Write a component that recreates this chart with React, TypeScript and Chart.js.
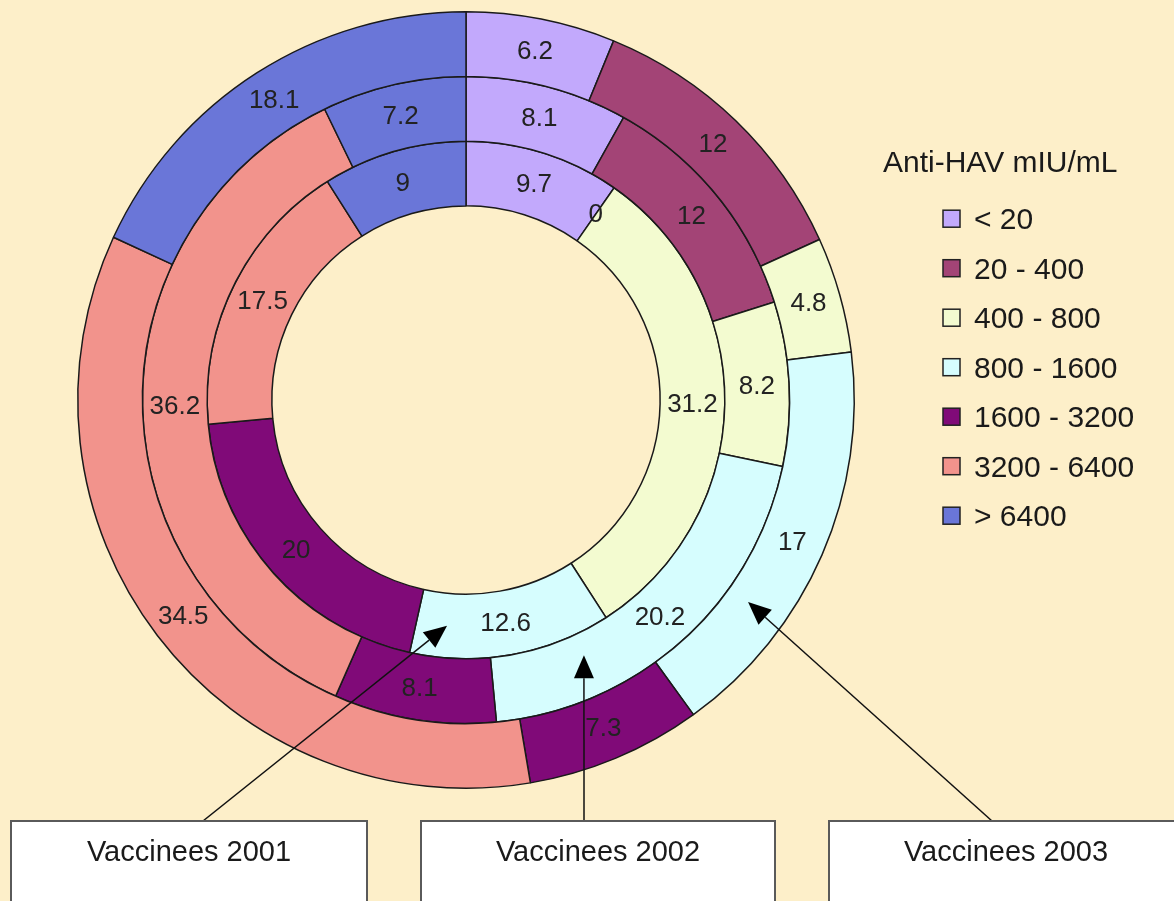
import React, { useEffect, useRef } from "react";
import { Chart, registerables } from "chart.js";

Chart.register(...registerables);

// ---- data ----
const categories = ["< 20", "20 - 400", "400 - 800", "800 - 1600", "1600 - 3200", "3200 - 6400", "> 6400"];
const values2003 = [6.2, 12, 4.8, 17, 7.3, 34.5, 18.1];
const values2002 = [8.1, 12, 8.2, 20.2, 8.1, 36.2, 7.2];
const values2001 = [9.7, 0, 31.2, 12.6, 20, 17.5, 9];
const seriesNames = ["Vaccinees 2003", "Vaccinees 2002", "Vaccinees 2001"];
const legendTitle = "Anti-HAV mIU/mL";
const sliceColors = ["#C2A9FC", "#A34476", "#F3FBD0", "#D6FDFE", "#800A78", "#F2938C", "#6A76D8"];

const BG = "#FDEFC9";
const FONT = '"Liberation Sans", Arial, sans-serif';

// callout layout: ring index (dataset), tip angle (deg from top, clockwise), radial offset, box geometry
const callouts = [
  { ds: 2, angle: 184.8, dr: 0, tailX: 203, box: [11, 367] },
  { ds: 1, angle: 155.2, dr: -10, tailX: 584, box: [421, 775] },
  { ds: 0, angle: 125.6, dr: -9, tailX: 992, box: [829, 1200] },
];
const BOX_TOP = 821;

function drawArrow(ctx: CanvasRenderingContext2D, x1: number, y1: number, x2: number, y2: number) {
  const ang = Math.atan2(y2 - y1, x2 - x1);
  const len = 23;
  const hw = 10;
  const bx = x2 - Math.cos(ang) * len;
  const by = y2 - Math.sin(ang) * len;
  ctx.beginPath();
  ctx.moveTo(x1, y1);
  ctx.lineTo(bx, by);
  ctx.strokeStyle = "#111";
  ctx.lineWidth = 1.5;
  ctx.stroke();
  ctx.beginPath();
  ctx.moveTo(x2, y2);
  ctx.lineTo(bx + Math.cos(ang + Math.PI / 2) * hw, by + Math.sin(ang + Math.PI / 2) * hw);
  ctx.lineTo(bx + Math.cos(ang - Math.PI / 2) * hw, by + Math.sin(ang - Math.PI / 2) * hw);
  ctx.closePath();
  ctx.fillStyle = "#000";
  ctx.fill();
}

const bgPlugin = {
  id: "bg",
  beforeDraw(chart: any) {
    const ctx = chart.ctx;
    ctx.save();
    ctx.fillStyle = BG;
    ctx.fillRect(0, 0, chart.width, chart.height);
    ctx.restore();
  },
};

const overlayPlugin = {
  id: "overlay",
  afterDatasetsDraw(chart: any) {
    const ctx: CanvasRenderingContext2D = chart.ctx;
    // value labels
    ctx.save();
    ctx.font = `26px ${FONT}`;
    ctx.fillStyle = "#222";
    ctx.textAlign = "center";
    ctx.textBaseline = "middle";
    chart.data.datasets.forEach((ds: any, di: number) => {
      const meta = chart.getDatasetMeta(di);
      meta.data.forEach((arc: any, i: number) => {
        const p = arc.getCenterPoint();
        ctx.fillText(String(ds.data[i]), p.x, p.y + 1);
      });
    });
    ctx.restore();

    // legend
    ctx.save();
    ctx.font = `30px ${FONT}`;
    ctx.fillStyle = "#1a1a1a";
    ctx.textAlign = "left";
    ctx.textBaseline = "alphabetic";
    ctx.fillText(legendTitle, 883, 171.5);
    categories.forEach((c, i) => {
      const cy = 218.7 + i * 49.5;
      ctx.fillStyle = sliceColors[i];
      ctx.fillRect(943, cy - 8.5, 17, 17);
      ctx.strokeStyle = "#222";
      ctx.lineWidth = 1.5;
      ctx.strokeRect(943, cy - 8.5, 17, 17);
      ctx.fillStyle = "#1a1a1a";
      ctx.fillText(c, 974, cy + 10.7);
    });
    ctx.restore();

    // callouts
    ctx.save();
    callouts.forEach((co, k) => {
      const meta = chart.getDatasetMeta(co.ds);
      const arc: any = meta.data[0];
      const { x, y, innerRadius, outerRadius } = arc.getProps(["x", "y", "innerRadius", "outerRadius"]);
      const r = (innerRadius + outerRadius) / 2 + co.dr;
      const a = (co.angle * Math.PI) / 180;
      const tx = x + r * Math.sin(a);
      const ty = y - r * Math.cos(a);
      drawArrow(ctx, co.tailX, BOX_TOP, tx, ty);
      const [bx1, bx2] = co.box;
      ctx.fillStyle = "#FFFFFF";
      ctx.fillRect(bx1, BOX_TOP, bx2 - bx1, 200);
      ctx.strokeStyle = "#5a5a5a";
      ctx.lineWidth = 2;
      ctx.strokeRect(bx1, BOX_TOP, bx2 - bx1, 200);
      ctx.fillStyle = "#1a1a1a";
      ctx.font = `29px ${FONT}`;
      ctx.textAlign = "center";
      ctx.textBaseline = "alphabetic";
      const name = seriesNames[co.ds];
      const cx = co.ds === 0 ? 1006 : (bx1 + bx2) / 2;
      ctx.fillText(name, cx, 861);
    });
    ctx.restore();
  },
};

export default function App() {
  const ref = useRef<HTMLCanvasElement | null>(null);
  useEffect(() => {
    document.body.style.margin = "0";
    const canvas = ref.current;
    if (!canvas) return;
    const mk = (data: number[], label: string) => ({
      label,
      data,
      backgroundColor: sliceColors,
      borderColor: "#1a1a1a",
      borderWidth: 1.5,
    });
    const chart = new Chart(canvas, {
      type: "doughnut",
      data: {
        labels: categories,
        datasets: [
          mk(values2003, seriesNames[0]),
          mk(values2002, seriesNames[1]),
          mk(values2001, seriesNames[2]),
        ],
      },
      options: {
        responsive: false,
        maintainAspectRatio: false,
        animation: false,
        devicePixelRatio: 1,
        cutout: "50%",
        layout: { padding: { left: 77, top: 11, right: 319, bottom: 112 } },
        plugins: {
          legend: { display: false },
          tooltip: { enabled: false },
          title: { display: false },
        },
      },
      plugins: [bgPlugin, overlayPlugin],
    });
    return () => chart.destroy();
  }, []);
  return (
    <div style={{ position: "absolute", left: 0, top: 0, width: 1174, height: 901, background: BG, overflow: "hidden" }}>
      <canvas ref={ref} width={1174} height={901} style={{ display: "block" }} />
    </div>
  );
}
